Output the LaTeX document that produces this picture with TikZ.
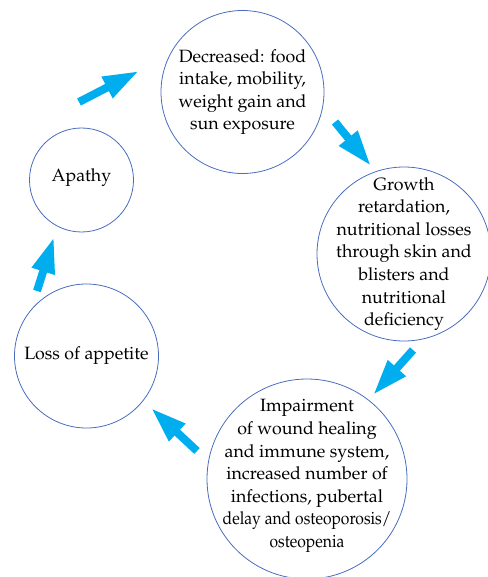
\documentclass[tikz,border=0pt]{standalone}
\usepackage[T1]{fontenc}
\usepackage{mathpazo}
\usetikzlibrary{arrows.meta}
\definecolor{ringblue}{RGB}{72,108,190}
\definecolor{arrowcyan}{RGB}{0,174,239}
\tikzset{
	ring/.style={draw=ringblue,line width=0.8pt,circle,inner sep=0pt},
	ringtext/.style={align=center,inner sep=0pt,font=\fontsize{17.8}{22.6}\selectfont},
	bigarrow/.style={arrowcyan,line width=8pt,-{Triangle[length=36pt,width=22pt]}}
}
\begin{document}
\begin{tikzpicture}[x=1pt,y=-1pt]
	\useasboundingbox (0,0) rectangle (487,577);
	\node[ring,minimum size=163pt] (decr) at (242.5,92) {};
	\node[ringtext] at (decr) {Decreased: food\\intake, mobility,\\weight gain and\\sun exposure};
	\node[ring,minimum size=174pt] (growth) at (404,254) {};
	\node[ringtext] at (growth) {Growth\\retardation,\\nutritional losses\\through skin and\\blisters and\\nutritional\\deficiency};
	\node[ring,minimum size=200pt] (impair) at (307,479) {};
	\node[ringtext] at ([yshift=3pt]impair) {Impairment\\of wound healing\\and immune system,\\increased number of\\infections, pubertal\\\scalebox{0.88}[1]{delay and osteoporosis/}\\\scalebox{0.88}[1]{osteopenia}};
	\node[ring,minimum size=144pt] (appetite) at (86.5,356) {};
	\node[ringtext] at (appetite) {Loss of appetite};
	\node[ring,minimum size=104pt] (apathy) at (81.5,180) {};
	\node[ringtext] at ([yshift=2pt]apathy) {Apathy};
	\coordinate (a1) at (79,102); \coordinate (b1) at (139,71);
	\coordinate (a2) at (335,122); \coordinate (b2) at (371,166);
	\coordinate (a3) at (413,350); \coordinate (b3) at (373,395);
	\coordinate (a4) at (197,451); \coordinate (b4) at (151,408);
	\coordinate (a5) at (37,291); \coordinate (b5) at (54,237);
	\foreach \i in {1,...,5}
		\draw[bigarrow] (a\i) -- (b\i);
\end{tikzpicture}
\end{document}
